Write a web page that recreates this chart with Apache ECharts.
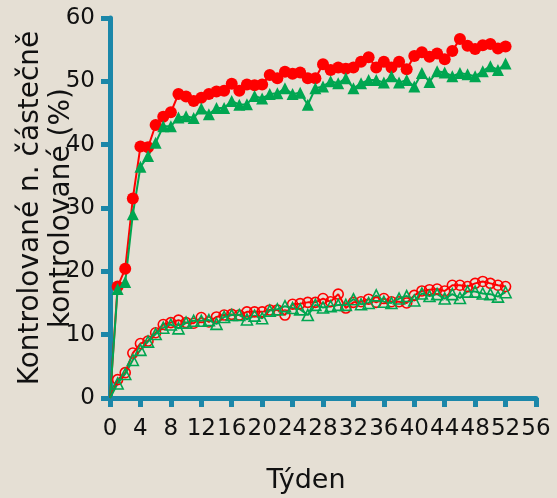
<!DOCTYPE html>
<html>
<head>
<meta charset="utf-8">
<script src="https://cdn.jsdelivr.net/npm/echarts@6/dist/echarts.min.js"></script>
<style>
  html, body { margin: 0; padding: 0; background: #e5dfd4; }
  #chart { width: 557px; height: 498px; }
</style>
</head>
<body>
<div id="chart"></div>
<script>
// týdny 0..52
const weeks = Array.from({ length: 53 }, (_, i) => i);
const xTicks = [0, 4, 8, 12, 16, 20, 24, 28, 32, 36, 40, 44, 48, 52, 56];
const yTicks = [0, 10, 20, 30, 40, 50, 60];

// kontrolované n. částečně kontrolované - horní křivky
const redUpper = [0, 17.6, 20.4, 31.5, 39.7, 39.6, 43.1, 44.4, 45.1, 48.0, 47.6, 46.9, 47.4, 48.0, 48.4, 48.5,
  49.6, 48.5, 49.5, 49.4, 49.5, 51.0, 50.5, 51.5, 51.2, 51.4, 50.5, 50.5, 52.7, 51.8, 52.2, 52.0, 52.2, 53.1,
  53.8, 52.2, 53.1, 52.2, 53.1, 51.9, 54.0, 54.6, 53.9, 54.4, 53.5, 54.8, 56.7, 55.6, 55.1, 55.7, 55.9, 55.2, 55.5];
const greenUpper = [0, 17.2, 18.3, 29.0, 36.5, 38.2, 40.3, 42.9, 42.9, 44.3, 44.5, 44.2, 45.7, 44.8, 45.8, 45.8,
  46.9, 46.3, 46.4, 47.7, 47.3, 48.0, 48.1, 48.9, 48.0, 48.2, 46.3, 48.9, 49.2, 50.0, 49.7, 50.5, 48.9, 49.7,
  50.2, 50.2, 49.8, 50.8, 49.8, 50.2, 49.2, 51.3, 49.9, 51.6, 51.4, 50.8, 51.3, 51.1, 50.8, 51.6, 52.4, 51.8, 52.8];
// dolní křivky (prázdné symboly)
const redLower = [0, 2.9, 4.0, 7.1, 8.6, 9.0, 10.3, 11.6, 11.9, 12.3, 11.9, 11.8, 12.7, 12.0, 12.8, 13.1,
  13.2, 13.1, 13.6, 13.6, 13.6, 13.9, 13.9, 13.1, 14.8, 14.9, 15.1, 15.1, 15.7, 15.2, 16.4, 14.2, 15.1, 15.2,
  15.6, 15.1, 15.7, 15.2, 15.2, 15.0, 16.2, 16.9, 17.1, 17.2, 16.9, 17.8, 17.8, 17.6, 18.1, 18.4, 18.1, 17.8, 17.6];
const greenLower = [0, 2.3, 3.8, 6.0, 7.6, 8.9, 10.1, 11.1, 11.6, 11.0, 11.9, 12.2, 12.2, 12.3, 11.7, 12.8,
  13.1, 13.1, 12.4, 13.0, 12.6, 13.8, 14.0, 14.5, 14.2, 14.0, 13.1, 14.7, 14.3, 14.5, 14.7, 14.7, 15.6, 14.8,
  15.0, 16.2, 15.2, 15.0, 15.7, 16.1, 15.4, 16.5, 16.1, 16.4, 15.7, 16.4, 15.8, 16.8, 16.8, 16.5, 16.4, 16.0, 16.7];

const RED = '#ff0000';
const GREEN = '#00a651';
const AXIS = '#1b87a9';
const FONT = 'DejaVu Sans';

// první bod (týden 0) bez symbolu
const toData = vals => vals.map((v, i) => (i === 0 ? { value: [weeks[i], v], symbol: 'none' } : [weeks[i], v]));

const mkSeries = (vals, color, symbol, size, hollow) => ({
  type: 'line',
  data: toData(vals),
  symbol,
  symbolSize: size,
  showAllSymbol: true,
  lineStyle: { color, width: 2 },
  itemStyle: hollow
    ? { color: 'transparent', borderColor: color, borderWidth: 1.6 }
    : { color, borderColor: color, borderWidth: 0 },
  emphasis: { disabled: true },
  animation: false
});

const chart = echarts.init(document.getElementById('chart'));
chart.setOption({
  backgroundColor: '#e5dfd4',
  textStyle: { fontFamily: FONT },
  grid: { left: 110, right: 21, top: 18, bottom: 100, containLabel: false, outerBoundsMode: 'none' },
  xAxis: {
    type: 'value',
    min: xTicks[0],
    max: xTicks[xTicks.length - 1],
    interval: 4,
    name: 'Týden',
    nameLocation: 'middle',
    nameGap: 69,
    nameMoveOverlap: false,
    nameTextStyle: { fontSize: 27, color: '#111', fontFamily: FONT, padding: [0, 34, 0, 0] },
    axisLine: { onZero: false, lineStyle: { color: AXIS, width: 5 } },
    axisTick: { length: 9, lineStyle: { color: AXIS, width: 5 } },
    axisLabel: { fontSize: 23, color: '#111', margin: 20, fontFamily: FONT },
    splitLine: { show: false }
  },
  yAxis: {
    type: 'value',
    min: yTicks[0],
    max: yTicks[yTicks.length - 1],
    interval: 10,
    name: 'Kontrolované n. částečně\nkontrolované (%)',
    nameLocation: 'middle',
    nameRotate: 90,
    nameGap: 33,
    nameMoveOverlap: false,
    nameTextStyle: { fontSize: 28, lineHeight: 31, color: '#111', fontFamily: FONT },
    axisLine: { onZero: false, lineStyle: { color: AXIS, width: 5 } },
    axisTick: { length: 9, lineStyle: { color: AXIS, width: 5 } },
    axisLabel: { fontSize: 23, color: '#111', margin: 15, fontFamily: FONT },
    splitLine: { show: false }
  },
  series: [
    mkSeries(redUpper, RED, 'circle', 12, false),
    mkSeries(greenUpper, GREEN, 'triangle', 12, false),
    mkSeries(redLower, RED, 'circle', 10, true),
    mkSeries(greenLower, GREEN, 'triangle', 11, true)
  ]
});
</script>
</body>
</html>
